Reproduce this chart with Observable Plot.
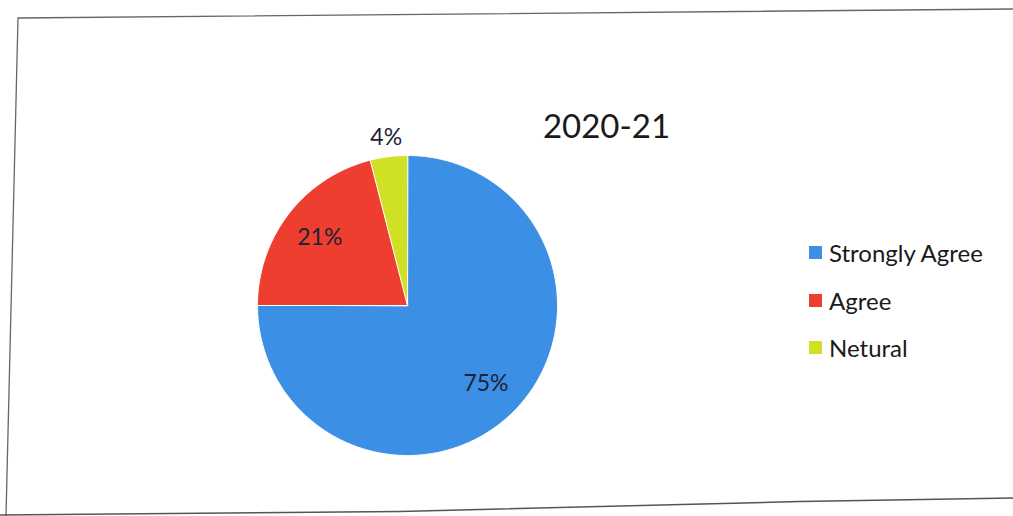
<!DOCTYPE html>
<html><head><meta charset="utf-8">
<script src="https://cdn.jsdelivr.net/npm/d3@7"></script>
<script src="https://cdn.jsdelivr.net/npm/@observablehq/plot@0.6"></script>
<style>
html,body{margin:0;padding:0;background:#fff;}
#chart{position:relative;width:1013px;height:516px;overflow:hidden;font-family:Lato,sans-serif;}
#chart > svg{position:absolute;left:0;top:0;}
#legend{position:absolute;left:809px;top:229px;}
#legend .lg-swatch{height:47.5px;padding-bottom:0;margin:0;display:flex;align-items:center;}
#legend .lg-swatch svg{margin-right:7px;}
</style></head><body><div id="chart"></div>
<script>
const title = "2020-21";
const categories = ["Strongly Agree", "Agree", "Netural"];
const values = [75, 21, 4];
const colors = ["#3b8fe4", "#ee3e2f", "#cfe025"];

const total = d3.sum(values);
const arcs = d3.pie().sort(null).value(d => d)(values);
const step = Math.PI / 360;
function slicePolygon(a0, a1) {
  const ring = [[0, 0]];
  const n = Math.max(2, Math.ceil((a1 - a0) / step));
  for (let i = 0; i <= n; i++) {
    const a = a0 + (a1 - a0) * i / n;
    ring.push([Math.sin(a), -Math.cos(a)]);
  }
  ring.push([0, 0]);
  return ring;
}
const slices = arcs.map((p, i) => ({
  type: "Feature",
  properties: {category: categories[i]},
  geometry: {type: "Polygon", coordinates: [slicePolygon(p.startAngle, p.endAngle)]}
}));
const labels = arcs.map((p, i) => {
  const a = (p.startAngle + p.endAngle) / 2;
  const r = values[i] / total < 0.1 ? 1.13 : 0.74;
  return {x: r * Math.sin(a), y: -r * Math.cos(a), text: `${values[i]}%`};
});

const plot = Plot.plot({
  width: 1013,
  height: 516,
  margin: 0,
  projection: {
    type: "identity",
    domain: {type: "MultiPoint", coordinates: [[-1, -1], [1, 1]]},
    insetLeft: 257, insetRight: 456, insetTop: 155, insetBottom: 61
  },
  color: {domain: categories, range: colors},
  style: {background: "transparent", fontFamily: "Lato, sans-serif"},
  marks: [
    Plot.geo(slices, {fill: d => d.properties.category, stroke: "white", strokeWidth: 1}),
    Plot.text(labels, {x: "x", y: "y", text: "text", fontSize: 23, fill: "#1e2235", lineAnchor: "middle"}),
    Plot.text([title], {frameAnchor: "top-left", dx: 606, dy: 137, text: d => d, textAnchor: "middle", lineAnchor: "bottom", fontSize: 33, fill: "#1a1a1a"})
  ]
});

// scanned border around the chart (decoration)
const svg = d3.select(plot);
const border = d3.line();
svg.append("path")
  .attr("d", border([[1013, 9], [18, 18], [6, 516]]))
  .attr("fill", "none").attr("stroke", "#666").attr("stroke-width", 1.3);
svg.append("path")
  .attr("d", border([[0, 515], [400, 511.5], [800, 501.5], [1013, 498]]))
  .attr("fill", "none").attr("stroke", "#555").attr("stroke-width", 1.5);

const chart = document.getElementById("chart");
chart.appendChild(plot);

const legend = Plot.legend({
  color: {domain: categories, range: colors},
  legend: "swatches",
  columns: 1,
  swatchSize: 13,
  className: "lg",
  style: {fontFamily: "Lato, sans-serif", fontSize: "24px", color: "#1a1a1a"}
});
const wrap = document.createElement("div");
wrap.id = "legend";
wrap.appendChild(legend);
chart.appendChild(wrap);
</script>
</body></html>
